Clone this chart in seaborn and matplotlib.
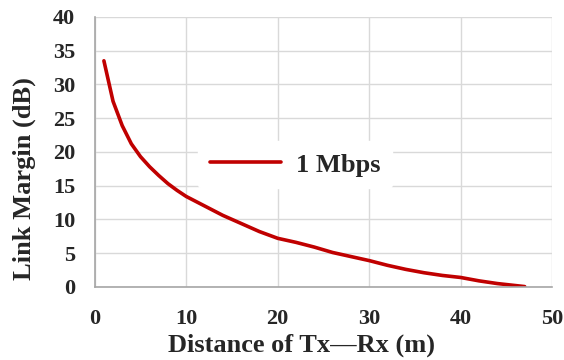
import matplotlib
matplotlib.use("Agg")
import matplotlib.pyplot as plt
import seaborn as sns
import pandas as pd

# Link margin versus Tx-Rx distance for the 1 Mbps data rate
distance_m = [1, 2, 3, 4, 5, 6, 7, 8, 9, 10, 12, 14, 16, 18, 20, 22, 24, 26,
              28, 30, 32, 34, 36, 38, 40, 42, 44, 46, 47]
link_margin_db = [33.5, 27.5, 23.9, 21.2, 19.3, 17.8, 16.5, 15.3, 14.3, 13.4,
                  12.0, 10.6, 9.4, 8.2, 7.2, 6.6, 5.9, 5.1, 4.5, 3.9, 3.2,
                  2.6, 2.1, 1.7, 1.4, 0.9, 0.5, 0.2, 0.05]
series_label = "1 Mbps"
x_ticks = [0, 10, 20, 30, 40, 50]
y_ticks = [0, 5, 10, 15, 20, 25, 30, 35, 40]

df = pd.DataFrame({"Distance": distance_m, "Margin": link_margin_db,
                   "Rate": series_label})

sns.set_style("whitegrid")
plt.rcParams["font.family"] = ["Liberation Serif", "DejaVu Serif"]
plt.rcParams["font.weight"] = "bold"

fig = plt.figure(figsize=(5.64, 3.6), dpi=100)
ax = fig.add_axes([0.168, 0.203, 0.811, 0.750])

sns.lineplot(data=df, x="Distance", y="Margin", hue="Rate",
             palette=["#c00000"], linewidth=2.6, ax=ax)

ax.set_xlim(0, 50)
ax.set_ylim(0, 40)
ax.set_xticks(x_ticks)
ax.set_yticks(y_ticks)
ax.grid(True, color="#d9d9d9", linewidth=1.0)
ax.tick_params(axis="x", length=0, pad=16, labelsize=16)
ax.tick_params(axis="y", length=0, pad=14, labelsize=16)
for lbl in ax.get_xticklabels() + ax.get_yticklabels():
    lbl.set_fontweight("bold")

for side in ("top", "right"):
    ax.spines[side].set_visible(False)
for side in ("left", "bottom"):
    ax.spines[side].set_color("#a6a6a6")
    ax.spines[side].set_linewidth(1.2)

ax.set_xlabel("Distance of Tx\u2014Rx (m)", fontsize=19, fontweight="bold")
ax.xaxis.set_label_coords(0.451, -0.172)
ax.set_ylabel("Link Margin (dB)", fontsize=19, fontweight="bold")
ax.yaxis.set_label_coords(-0.128, 0.40)

leg = ax.legend(loc="center", bbox_to_anchor=(0.438, 0.452), frameon=True,
                fontsize=19, handlelength=2.7, handletextpad=0.55,
                borderpad=0.45)
leg.get_frame().set_edgecolor("white")
leg.get_frame().set_facecolor("white")
leg.get_frame().set_alpha(1.0)
for t in leg.get_texts():
    t.set_fontweight("bold")

fig.savefig("out.png", dpi=100)
